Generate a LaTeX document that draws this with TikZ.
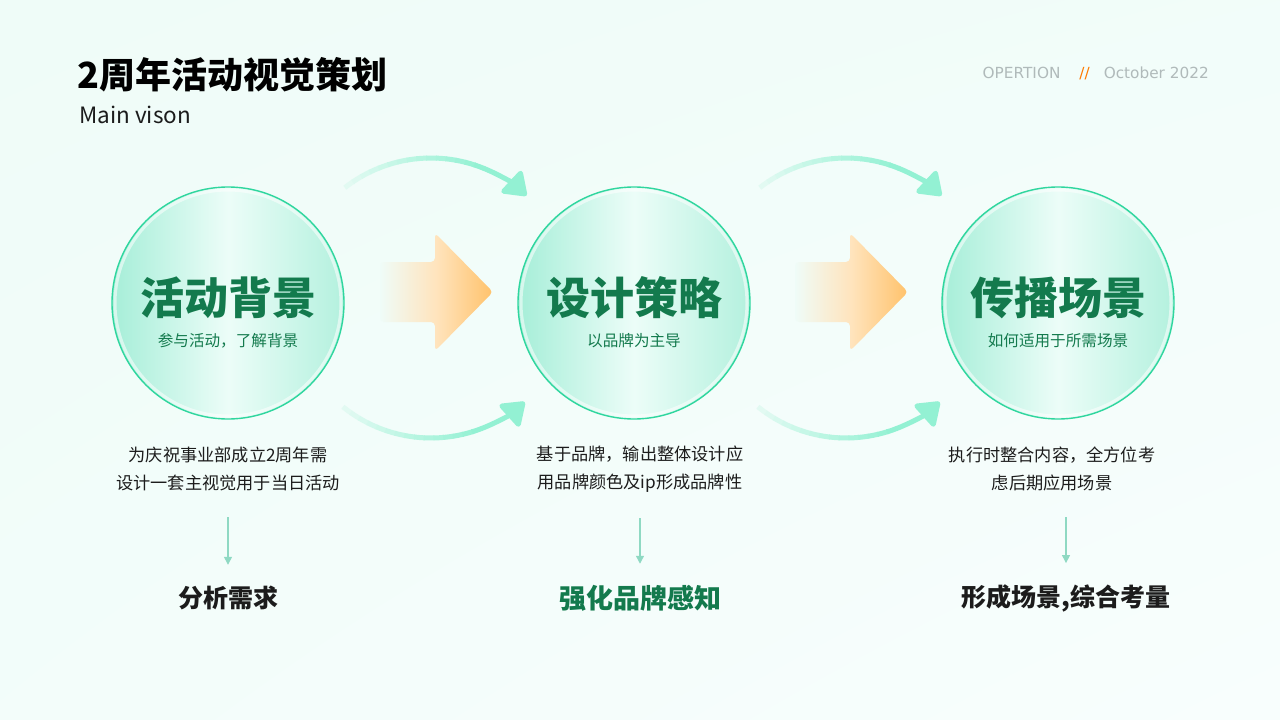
\documentclass[tikz,border=0pt]{standalone}
\usepackage{fontspec}
\setmainfont{Noto Sans CJK SC}
\newfontfamily\tagfont{DejaVu Sans}
\usepackage{xcolor}
\usetikzlibrary{positioning,arrows.meta,calc,shadings}
\definecolor{bgmint}{HTML}{EFFCF8}
\definecolor{bgwhite}{HTML}{F8FEFD}
\definecolor{rimgreen}{HTML}{2FD69E}
\definecolor{mintedge}{HTML}{A6EED8}
\definecolor{mintmid}{HTML}{ECFDF8}
\definecolor{deepgreen}{HTML}{137A4D}
\definecolor{arcfaint}{HTML}{E2FAF2}
\definecolor{arcstrong}{HTML}{93F1D3}
\definecolor{arroworange}{HTML}{FFC26B}
\definecolor{tagorange}{HTML}{FF7A00}
\definecolor{taggray}{HTML}{B0BABA}
\definecolor{stemgreen}{HTML}{8FD9C3}
\definecolor{inkblack}{HTML}{1C1C1C}
\tikzset{
  stage/.style={circle, draw=rimgreen, line width=1.4pt, minimum size=232pt, inner sep=0pt,
    left color=mintedge, right color=mintedge!85!white, middle color=mintmid},
  stagehead/.style={font=\fontsize{44}{48}\selectfont\bfseries, text=deepgreen, inner sep=0pt},
  stagesub/.style={font=\fontsize{15.6}{18}\selectfont, text=deepgreen, inner sep=0pt},
  flowline/.style={line width=5pt},
  flowtip/.style={-{Triangle[length=24pt, width=33pt, round]}, line width=5pt, draw=arcstrong, fill=arcstrong},
  note/.style={align=center, font=\fontsize{17.2}{28}\selectfont, text=inkblack, inner sep=0pt},
  result/.style={font=\fontsize{25}{28}\selectfont\bfseries, text=inkblack, inner sep=0pt},
  stem/.style={-{Triangle[length=8pt, width=8pt]}, draw=stemgreen, line width=1.3pt}
}
\begin{document}
\begin{tikzpicture}[x=1pt, y=-1pt]
\useasboundingbox (0,0) rectangle (1280,720);
\shade[upper left=bgmint, upper right=bgmint!70!bgwhite, lower left=bgmint!60!bgwhite, lower right=bgwhite]
  (0,0) rectangle (1280,720);

% heading
\node[anchor=west, font=\fontsize{36}{40}\selectfont\bfseries, text=black, inner sep=0pt] (title) at (77,75) {2周年活动视觉策划};
\node[anchor=west, font=\fontsize{22.5}{26}\selectfont, text=inkblack, inner sep=0pt] (subtitle) at (79,115) {Main vison};
\node[anchor=east, font=\tagfont\fontsize{15.3}{18}\selectfont, text=taggray, inner sep=0pt] (tag) at (1209,73)
  {OPERTION\hspace{19pt}{\color{tagorange}//}\hspace{14pt}October 2022};

% stages
\node[stage] (c1) at (228,303) {};
\node[stage] (c2) at (634,303) {};
\node[stage] (c3) at (1058,303) {};
\foreach \c in {c1,c2,c3}
  \draw[white, opacity=0.55, line width=3pt] (\c) circle (113);
\node[stagehead] (t1) at ($(c1)+(0,-5)$) {活动背景};
\node[stagehead] (t2) at ($(c2)+(0,-5)$) {设计策略};
\node[stagehead] (t3) at ($(c3)+(0,-5)$) {传播场景};
\node[stagesub] (s1) at ($(c1)+(0,38)$) {参与活动，了解背景};
\node[stagesub] (s2) at ($(c2)+(0,38)$) {以品牌为主导};
\node[stagesub] (s3) at ($(c3)+(0,38)$) {如何适用于所需场景};

% big orange arrows and arcs between stages
\coordinate (m1) at ($(c1)!0.5!(c2)+(0,-5)$);
\coordinate (m2) at ($(c2)!0.5!(c3)+(0,-5)$);
\foreach \m in {m1,m2} {
  \shade[left color=bgmint, right color=arroworange, middle color=arroworange!45!white, rounded corners=4pt]
    ($(\m)+(-51,-36)$) -- ($(\m)+(4,-36)$) -- ($(\m)+(4,-65)$) -- ($(\m)+(62,-6)$)
    -- ($(\m)+(4,53)$) -- ($(\m)+(4,24)$) -- ($(\m)+(-51,24)$) -- cycle;
  \foreach \i in {0,...,14} {
    \pgfmathtruncatemacro{\pct}{100*\i/14}
    \draw[flowline, arcstrong!\pct!arcfaint] ($(\m)+({-128+\i*4}:140)$) arc[start angle={-128+\i*4}, delta angle=4.4, radius=140];
    \draw[flowline, arcstrong!\pct!arcfaint] ($(\m)+({129-\i*4}:140)$) arc[start angle={129-\i*4}, delta angle=-4.4, radius=140];
  }
  \draw[flowtip] ($(\m)+(-68:140)$) arc[start angle=-68, end angle=-47, radius=140];
  \draw[flowtip] ($(\m)+(69:140)$) arc[start angle=69, end angle=48, radius=140];
}

% notes
\node[note] (d1) at (228,469) {为庆祝事业部成立2周年需\\设计一套主视觉用于当日活动};
\node[note] (d2) at (640,469) {基于品牌，输出整体设计应\\用品牌颜色及ip形成品牌性};
\node[note] (d3) at (1052,469) {执行时整合内容，全方位考\\虑后期应用场景};

\node[result] (r1) at (228,598) {分析需求};
\node[result, text=deepgreen, font=\fontsize{27}{30}\selectfont\bfseries] (r2) at (640,598) {强化品牌感知};
\node[result] (r3) at (1066,598) {形成场景,综合考量};

\foreach \n in {1,2,3}
  \draw[stem, shorten <=26pt, shorten >=21pt] (r\n.north |- d\n.south) -- (r\n.north);
\end{tikzpicture}
\end{document}
